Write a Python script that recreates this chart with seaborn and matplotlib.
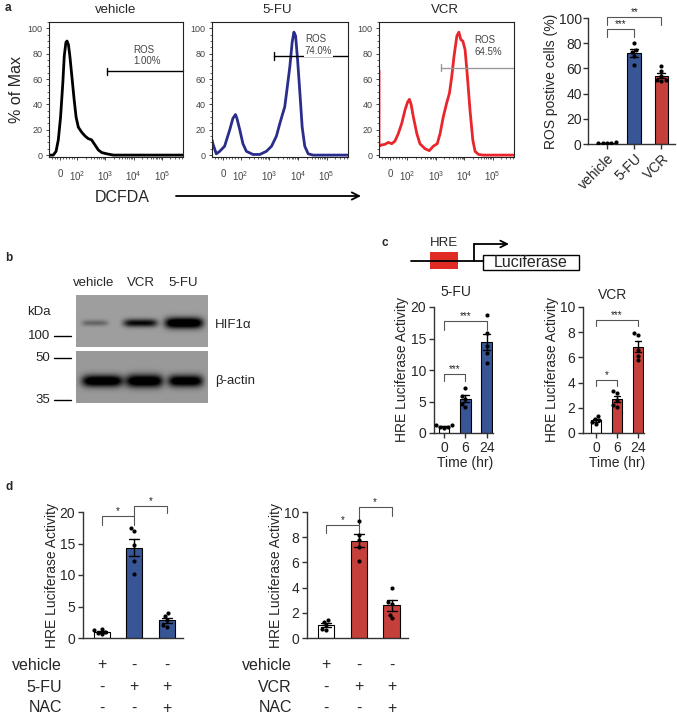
import numpy as np
import pandas as pd
import seaborn as sns
import matplotlib.pyplot as plt
from matplotlib.patches import Rectangle, FancyArrowPatch
from matplotlib.ticker import MultipleLocator, FixedLocator

sns.set_style("ticks")
plt.rcParams['font.family'] = ['Liberation Sans', 'DejaVu Sans']
plt.rcParams['mathtext.default'] = 'regular'

# ---- panel a: flow histograms (x in decades, y in % of max) ----
veh_x = [1.00, 1.15, 1.25, 1.33, 1.41, 1.49, 1.54, 1.60, 1.64, 1.69, 1.74, 1.82, 1.89,
         1.96, 2.04, 2.16, 2.28, 2.39, 2.51, 2.63, 2.75, 2.87, 3.05, 3.28, 4.00, 5.75]
veh_y = [0, 0, 3, 12, 30, 57, 78, 89, 90, 87, 78, 60, 44, 30, 22, 18, 15, 13, 12, 8, 4, 2, 1, 0, 0, 0]
fu_x = [1.00, 1.03, 1.15, 1.27, 1.44, 1.62, 1.73, 1.82, 1.87, 1.97, 2.08, 2.20, 2.43, 2.67, 2.90, 3.08,
        3.25, 3.37, 3.46, 3.54, 3.62, 3.72, 3.80, 3.86, 3.92, 3.99, 4.07, 4.15, 4.24, 4.36, 4.53, 5.75]
fu_y = [12, 9, 1, 3, 7, 20, 29, 32, 29, 20, 9, 3, 0.5, 0.5, 3, 7, 15, 25, 32, 38, 52, 70, 89, 97,
        94, 75, 49, 22, 7, 1, 0, 0]
vcr_x = [1.00, 1.00, 1.09, 1.21, 1.33, 1.45, 1.56, 1.68, 1.80, 1.92, 2.01, 2.07, 2.13, 2.21, 2.33, 2.44,
         2.62, 2.77, 2.91, 3.05, 3.15, 3.26, 3.38, 3.48, 3.56, 3.64, 3.74, 3.81, 3.88, 3.95, 4.03, 4.11,
         4.20, 4.30, 4.38, 4.50, 4.67, 5.75]
vcr_y = [67, 7, 8, 8.5, 10, 9, 11, 17, 25, 36, 42, 44, 40, 30, 17, 9, 5, 3.5, 7, 9, 17, 30, 41, 49,
         62, 78, 94, 97, 91, 90, 83, 62, 36, 12, 3, 0.5, 0, 0]
hist_titles = ["vehicle", "5-FU", "VCR"]
gate_level = [66, 78, 69]
gate_start = [3.07, 3.16, 3.18]
gate_pct = ["1.00%", "74.0%", "64.5%"]
dec_ticks = [1.4, 2, 3, 4, 5]
dec_labels = ["0", "$10^2$", "$10^3$", "$10^4$", "$10^5$"]

# ROS positive cells
ros_groups = ["vehicle", "5-FU", "VCR"]
ros_vehicle = [1.2, 1.0, 0.8, 1.1, 0.9]
ros_5fu = [80.5, 75, 73, 70, 63]
ros_vcr = [62, 58, 54, 51, 51, 50]

# ---- panel b: blot ----
blot_lanes = ["vehicle", "VCR", "5-FU"]
hif_level = [0.22, 0.60, 0.85]
actin_level = [0.78, 0.78, 0.74]

# ---- panel c: time course ----
c_times = ["0", "6", "24"]
c_fu_0 = [1.3, 1.2, 1.0, 0.9, 0.8]
c_fu_6 = [7.2, 5.9, 5.4, 4.6, 4.1]
c_fu_24 = [18.7, 15.8, 13.8, 12.7, 11.1]
c_vcr_0 = [1.35, 1.1, 1.0, 0.85, 0.75]
c_vcr_6 = [3.35, 3.2, 2.65, 2.25, 2.05]
c_vcr_24 = [7.95, 7.75, 6.55, 6.15, 5.8]

# ---- panel d: NAC ----
d_groups = ["vehicle", "drug", "drug+NAC"]
d_fu_veh = [1.5, 1.2, 1.0, 0.8, 0.6]
d_fu_drug = [17.4, 17.0, 14.8, 12.3, 10.2]
d_fu_nac = [3.9, 3.5, 2.9, 2.1, 1.8]
d_vcr_veh = [1.4, 1.3, 1.0, 0.75, 0.6]
d_vcr_drug = [9.3, 8.2, 7.8, 7.25, 6.1]
d_vcr_nac = [3.95, 2.85, 2.7, 1.85, 1.55]
table_fu = [("vehicle", ["+", "-", "-"]), ("5-FU", ["-", "+", "+"]), ("NAC", ["-", "-", "+"])]
table_vcr = [("vehicle", ["+", "-", "-"]), ("VCR", ["-", "+", "+"]), ("NAC", ["-", "-", "+"])]

BLUE = "#2850a4"
RED = "#dc2a24"
W, H = 677, 718
fig = plt.figure(figsize=(W / 100, H / 100), dpi=100)
fig.patch.set_facecolor("white")


def px_axes(x0, y0, x1, y1):
    return fig.add_axes([x0 / W, 1 - y1 / H, (x1 - x0) / W, (y1 - y0) / H])


ov = px_axes(0, 0, W, H)
ov.set_xlim(0, W)
ov.set_ylim(H, 0)
ov.axis("off")


def txt(x, y, s, **kw):
    kw.setdefault("ha", "center")
    kw.setdefault("va", "center")
    ov.text(x, y, s, **kw)


# ---------- histograms ----------
hist_data = [(49, 183, veh_x, veh_y, "black", "black"),
             (212, 348, fu_x, fu_y, "#2b2d8c", "black"),
             (379, 514, vcr_x, vcr_y, "#e8262b", "#999999")]
minor_x = [d + np.log10(k) for d in range(2, 6) for k in range(2, 10) if d + np.log10(k) < 5.75]
minor_x += [1.1, 1.2, 1.3, 1.5, 1.6, 1.7, 1.8, 1.9]
for i, (x0, x1, hx, hy, col, gcol) in enumerate(hist_data):
    ax = px_axes(x0, 22, x1, 157)
    sns.lineplot(x=hx, y=hy, color=col, lw=2, estimator=None, sort=False, ax=ax)
    ax.set_xlim(1.0, 5.75)
    ax.set_ylim(-1.5, 105)
    ax.set_yticks([0, 20, 40, 60, 80, 100])
    ax.yaxis.set_minor_locator(MultipleLocator(5))
    ax.set_xticks(dec_ticks)
    ax.set_xticklabels(dec_labels)
    ax.xaxis.set_minor_locator(FixedLocator(minor_x))
    ax.tick_params(which="major", length=2.5, width=0.6, labelsize=6.5, labelcolor="#444", pad=2)
    ax.tick_params(which="minor", length=1.5, width=0.5)
    ax.tick_params(axis="x", pad=6, labelsize=7)
    for sp in ax.spines.values():
        sp.set_linewidth(0.8)
        sp.set_color("#222")
    g = gate_level[i]
    xs = gate_start[i]
    ax.plot([xs, 5.75], [g, g], color=gcol, lw=1.0, clip_on=False)
    ax.plot([xs, xs], [g - 3, g + 3], color=gcol, lw=1.0)
    if i == 0:
        ax.text(4.0, 78.5, "ROS\n" + gate_pct[i], ha="left", va="center", fontsize=7,
                color="#444", linespacing=1.2)
    elif i == 1:
        ax.text(4.24, 87, "ROS\n" + gate_pct[i], ha="left", va="center", fontsize=7,
                color="#444", linespacing=1.2,
                bbox=dict(facecolor="white", edgecolor="none", pad=0.8))
    else:
        ax.text(4.35, 86, "ROS\n" + gate_pct[i], ha="left", va="center", fontsize=7,
                color="#444", linespacing=1.2)
    if i == 0:
        ax.set_ylabel("% of Max", fontsize=11.5)
        ax.yaxis.set_label_coords(-0.19, 0.5)
    else:
        ax.set_ylabel("")
    ax.set_xlabel("")

for (xc, t) in zip([116, 277, 445], hist_titles):
    txt(xc, 10, t, fontsize=9.5)
txt(122, 198, "DCFDA", fontsize=11.5)
ov.add_patch(FancyArrowPatch((176, 196), (361, 196), arrowstyle="->", mutation_scale=13, lw=1.3,
                             color="black", shrinkA=0, shrinkB=0))


# ---------- bar chart helpers ----------
def bar_panel(ax, groups, series, colors, ylim, yticks, xlim):
    df = pd.DataFrame({"g": np.repeat(groups, [len(s) for s in series]),
                       "v": np.concatenate(series)})
    sns.barplot(data=df, x="g", y="v", hue="g", order=groups, hue_order=groups, palette=colors,
                errorbar="se", capsize=0.3, err_kws={"color": "k", "linewidth": 1.0},
                edgecolor="k", linewidth=0.8, width=0.5, legend=False, ax=ax)
    sns.swarmplot(data=df, x="g", y="v", order=groups, color="k", size=3, ax=ax)
    ax.set_xlim(*xlim)
    ax.set_ylim(*ylim)
    ax.set_yticks(yticks)
    sns.despine(ax=ax)
    for sp in ["left", "bottom"]:
        ax.spines[sp].set_linewidth(1.0)
        ax.spines[sp].set_color("#333")
    ax.tick_params(length=3.5, width=1.0, color="#333", labelsize=10, pad=2)
    ax.set_xlabel("")
    ax.set_facecolor("none")


def bracket(ax, x0, x1, y, yl0, yl1, s):
    ax.plot([x0, x0, x1, x1], [yl0, y, y, yl1], color="#555", lw=0.8, clip_on=False)
    ax.text((x0 + x1) / 2, y, s, ha="center", va="bottom", fontsize=7, color="#222")


# ROS bars
ax = px_axes(588, 18, 675, 144)
bar_panel(ax, ros_groups, [ros_vehicle, ros_5fu, ros_vcr], ["white", BLUE, RED],
          (0, 100), [0, 20, 40, 60, 80, 100], (-0.7, 2.5))
ax.tick_params(axis="y", pad=1)
ax.set_ylabel("ROS postive cells (%)", fontsize=10)
ax.yaxis.set_label_coords(-0.35, 0.5)
for lab in ax.get_xticklabels():
    lab.set_rotation(45)
    lab.set_ha("right")
    lab.set_rotation_mode("anchor")
bracket(ax, 0, 1, 91, 85, 85, "***")
bracket(ax, 0, 2, 101, 94.4, 94.4, "**")

# ---------- panel b: blot ----------
def blot(x0, x1, y0, y1, bg, centers, widths, cy, heights, levels):
    xs = np.arange(x0, x1) + 0.5
    ys = np.arange(y0, y1) + 0.5
    X, Y = np.meshgrid(xs, ys)
    img = np.full(X.shape, bg)
    for c, w, h, lv in zip(centers, widths, heights, levels):
        img -= lv * np.exp(-np.abs((X - c) / (w / 2)) ** 5) * np.exp(-((Y - cy) / (h / 2)) ** 2)
    img = np.clip(img, 0, 1)
    ov.imshow(img, cmap="gray", vmin=0, vmax=1, extent=(x0, x1, y1, y0), aspect="auto",
              interpolation="bilinear")


blot(76, 208, 295, 347, 0.62, [95, 140.5, 184], [26, 34, 38], 323, [6, 8, 11], hif_level)
blot(76, 208, 351, 403, 0.60, [102.5, 144.5, 185.5], [41, 37, 35], 381, [12, 13, 12], actin_level)
ov.set_xlim(0, W)
ov.set_ylim(H, 0)
for xc, lane in zip([94, 141, 183], blot_lanes):
    txt(xc, 283, lane, fontsize=9.5)
txt(215, 325, "HIF1α", ha="left", fontsize=9.5)
txt(215, 381, "β-actin", ha="left", fontsize=9.5)
txt(27, 312, "kDa", ha="left", fontsize=9.5)
for yy, mk in zip([336, 358, 400], ["100", "50", "35"]):
    txt(50, yy, mk, ha="right", fontsize=9.5)
    ov.plot([54, 71], [yy, yy], color="black", lw=1)

# ---------- panel c ----------
ov.plot([411, 483], [261, 261], color="black", lw=1.3)
ov.add_patch(Rectangle((430, 252), 28, 17, facecolor="#e02b25", edgecolor="none"))
txt(444, 243, "HRE", fontsize=9.5)
ov.plot([474, 474], [261, 244], color="black", lw=1.3)
ov.add_patch(FancyArrowPatch((474, 244), (509, 244), arrowstyle="->", mutation_scale=12, lw=1.3,
                             color="black", shrinkA=0, shrinkB=0))
ov.add_patch(Rectangle((483, 255), 96, 15, facecolor="white", edgecolor="black", lw=1.0))
txt(531, 262.5, "Luciferase", fontsize=11.5)

ax = px_axes(434, 307, 493, 433)
bar_panel(ax, c_times, [c_fu_0, c_fu_6, c_fu_24], ["white", BLUE, BLUE],
          (0, 20), [0, 5, 10, 15, 20], (-0.47, 2.3))
ax.set_ylabel("HRE Luciferase Activity", fontsize=10)
ax.yaxis.set_label_coords(-0.42, 0.5)
bracket(ax, 0, 1, 9.3, 8.2, 8.2, "***")
bracket(ax, 0, 2, 17.7, 16.4, 16.4, "***")

ax = px_axes(583, 307, 644, 433)
bar_panel(ax, c_times, [c_vcr_0, c_vcr_6, c_vcr_24], ["white", RED, RED],
          (0, 10), [0, 2, 4, 6, 8, 10], (-0.62, 2.3))
ax.set_ylabel("HRE Luciferase Activity", fontsize=10)
ax.yaxis.set_label_coords(-0.39, 0.5)
bracket(ax, 0, 1, 4.17, 3.7, 3.7, "*")
bracket(ax, 0, 2, 8.94, 8.46, 8.46, "***")

txt(456, 292, "5-FU", fontsize=10)
txt(613, 295, "VCR", fontsize=10)
txt(465, 463, "Time (hr)", fontsize=10)
txt(617, 463, "Time (hr)", fontsize=10)

# ---------- panel d ----------
for (x0, x1, series, col, top, yt, label_x, table, brk) in [
        (83, 183, [d_fu_veh, d_fu_drug, d_fu_nac], BLUE, 20, [0, 5, 10, 15, 20], 62, table_fu,
         [(0, 1, 19.3, 17.9, 17.9), (1, 2, 21.0, 19.3, 19.8)]),
        (307, 408, [d_vcr_veh, d_vcr_drug, d_vcr_nac], RED, 10, [0, 2, 4, 6, 8, 10], 292, table_vcr,
         [(0, 1, 9.0, 8.3, 8.3), (1, 2, 10.4, 9.0, 9.7)])]:
    ax = px_axes(x0, 512, x1, 638)
    bar_panel(ax, d_groups, series, ["white", col, col], (0, top), yt, (-0.58, 2.5))
    ax.set_xticks([])
    ax.set_ylabel("HRE Luciferase Activity", fontsize=10)
    ax.yaxis.set_label_coords(-24 / (x1 - x0), 0.5)
    for b in brk:
        bracket(ax, b[0], b[1], b[2], b[3], b[4], "*")
    for (name, syms), yy in zip(table, [665, 687, 708]):
        txt(label_x, yy, name, ha="right", fontsize=11.5)
        for j, s in enumerate(syms):
            ax.text(j, (638 - yy) / 126, s, transform=ax.get_xaxis_transform(), ha="center",
                    va="center", fontsize=11.5)

# panel letters
for x, y, s in [(5, 8, "a"), (5, 258, "b"), (382, 243, "c"), (5, 487, "d")]:
    txt(x, y, s, ha="left", fontsize=8.5, fontweight="bold")

fig.savefig("out.png", dpi=100)
